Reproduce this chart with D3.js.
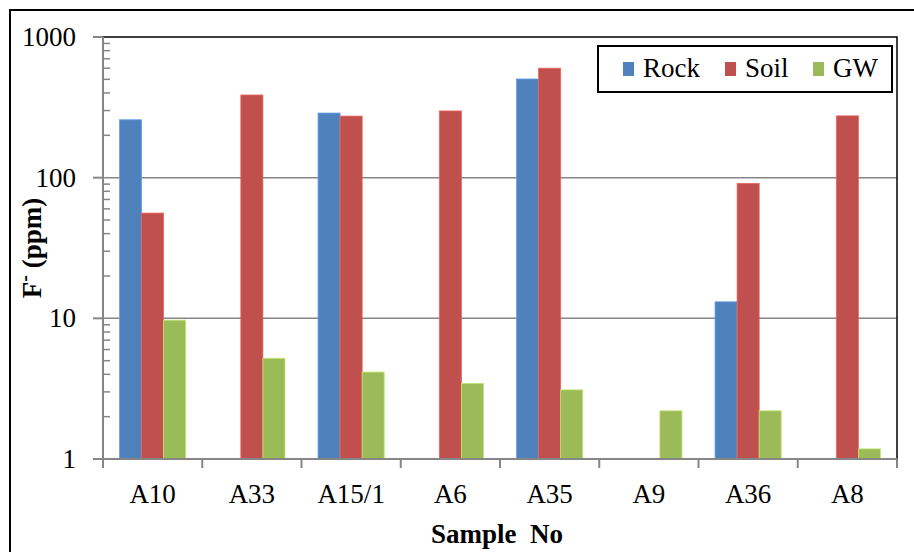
<!DOCTYPE html>
<html>
<head>
<meta charset="utf-8">
<script src="https://cdn.jsdelivr.net/npm/d3@7"></script>
<style>
  body { margin: 0; background: #fff; }
</style>
</head>
<body>
<div id="chart"></div>
<script>
// data
const samples = ["A10", "A33", "A15/1", "A6", "A35", "A9", "A36", "A8"];
const seriesNames = ["Rock", "Soil", "GW"];
const rock = [258, null, 288, null, 503, null, 13.1, null];
const soil = [56, 387, 274, 298, 600, null, 91, 275];
const gw = [9.7, 5.2, 4.15, 3.45, 3.1, 2.2, 2.2, 1.18];
const yTicks = [1, 10, 100, 1000];
const colors = ["#4f81bd", "#c0504d", "#9bbb59"];

const width = 914;
const height = 552;
const plot = { left: 103, right: 897, top: 37, bottom: 459 };
const serif = "Liberation Serif";

const svg = d3.select("#chart").append("svg")
  .attr("width", width)
  .attr("height", height);

svg.append("rect").attr("width", width).attr("height", height).attr("fill", "#fff");

// outer chart frame (runs off the right and bottom)
svg.append("rect")
  .attr("x", 10).attr("y", 10)
  .attr("width", 920).attr("height", 560)
  .attr("fill", "none").attr("stroke", "#000").attr("stroke-width", 2);

const x = d3.scaleBand().domain(samples).range([plot.left, plot.right]);
const bw = x.bandwidth() / 4.5;
const xs = d3.scaleBand().domain(seriesNames).range([0, bw * 3]);
const y = d3.scaleLog().domain([1, 1000]).range([plot.bottom, plot.top]);

// gridlines
svg.append("g").selectAll("line")
  .data(yTicks.slice(1, 3))
  .join("line")
  .attr("x1", plot.left).attr("x2", plot.right)
  .attr("y1", d => y(d)).attr("y2", d => y(d))
  .attr("stroke", "#868686").attr("stroke-width", 1.5);

// plot area border (top and right visible)
svg.append("rect")
  .attr("x", plot.left).attr("y", plot.top)
  .attr("width", plot.right - plot.left).attr("height", plot.bottom - plot.top)
  .attr("fill", "none").attr("stroke", "#000").attr("stroke-width", 1.5);

// bars
const rows = samples.map((s, i) => ({ s, vals: [rock[i], soil[i], gw[i]] }));
const groups = svg.append("g").selectAll("g")
  .data(rows)
  .join("g")
  .attr("transform", d => `translate(${x(d.s) + bw * 0.75},0)`);

groups.selectAll("rect")
  .data(d => d.vals.map((v, k) => ({ v, k })).filter(e => e.v != null))
  .join("rect")
  .attr("x", e => xs(seriesNames[e.k]))
  .attr("width", xs.bandwidth())
  .attr("y", e => y(e.v))
  .attr("height", e => plot.bottom - y(e.v))
  .attr("fill", e => colors[e.k])
  .attr("stroke", e => d3.color(colors[e.k]).brighter(0.6))
  .attr("stroke-width", 0.8);

// y axis
const yAxis = svg.append("g").attr("transform", `translate(${plot.left},0)`);
yAxis.append("line")
  .attr("y1", plot.top).attr("y2", plot.bottom + 8)
  .attr("stroke", "#868686").attr("stroke-width", 2);
yAxis.selectAll("line.major")
  .data(yTicks)
  .join("line").attr("class", "major")
  .attr("x1", -10).attr("x2", 0)
  .attr("y1", d => y(d)).attr("y2", d => y(d))
  .attr("stroke", "#868686").attr("stroke-width", 2);
const minor = [];
for (let dec = 1; dec < 1000; dec *= 10) {
  for (let m = 2; m <= 9; m++) minor.push(dec * m);
}
yAxis.selectAll("line.minor")
  .data(minor)
  .join("line").attr("class", "minor")
  .attr("x1", 0).attr("x2", 7)
  .attr("y1", d => y(d)).attr("y2", d => y(d))
  .attr("stroke", "#868686").attr("stroke-width", 1.5);
yAxis.selectAll("text")
  .data(yTicks)
  .join("text")
  .attr("x", -27)
  .attr("y", d => y(d) + 9)
  .attr("text-anchor", "end")
  .attr("font-family", serif)
  .attr("font-size", 27)
  .text(d => d);

// x axis
const xAxis = svg.append("g");
xAxis.append("line")
  .attr("x1", plot.left).attr("x2", plot.right)
  .attr("y1", plot.bottom).attr("y2", plot.bottom)
  .attr("stroke", "#868686").attr("stroke-width", 2);
const bounds = samples.map(s => x(s)).concat([plot.right]);
xAxis.selectAll("line.tick")
  .data(bounds)
  .join("line").attr("class", "tick")
  .attr("x1", d => d).attr("x2", d => d)
  .attr("y1", plot.bottom).attr("y2", plot.bottom + 9)
  .attr("stroke", "#868686").attr("stroke-width", 2);
xAxis.selectAll("text")
  .data(samples)
  .join("text")
  .attr("x", d => x(d) + x.bandwidth() / 2)
  .attr("y", 503)
  .attr("text-anchor", "middle")
  .attr("font-family", serif)
  .attr("font-size", 27)
  .text(d => d);

// axis titles
svg.append("text")
  .attr("x", 497).attr("y", 543)
  .attr("text-anchor", "middle")
  .attr("font-family", serif)
  .attr("font-size", 27).attr("font-weight", "bold")
  .attr("xml:space", "preserve")
  .text("Sample  No");

const yTitle = svg.append("text")
  .attr("transform", `translate(41,248) rotate(-90)`)
  .attr("text-anchor", "middle")
  .attr("font-family", serif)
  .attr("font-size", 27).attr("font-weight", "bold");
yTitle.append("tspan").text("F");
yTitle.append("tspan").attr("font-size", 20).attr("dy", -10).text("-");
yTitle.append("tspan").attr("dy", 10).text(" (ppm)");

// legend
const legend = svg.append("g");
legend.append("rect")
  .attr("x", 598).attr("y", 46)
  .attr("width", 294).attr("height", 46)
  .attr("fill", "#fff").attr("stroke", "#000").attr("stroke-width", 2);
const legendX = [623, 725, 813];
const items = legend.selectAll("g")
  .data(seriesNames)
  .join("g")
  .attr("transform", (d, i) => `translate(${legendX[i]},0)`);
items.append("rect")
  .attr("x", 0).attr("y", 62)
  .attr("width", 11).attr("height", 14)
  .attr("fill", (d, i) => colors[i]);
items.append("text")
  .attr("x", 20).attr("y", 77)
  .attr("font-family", serif)
  .attr("font-size", 27)
  .text(d => d);
</script>
</body>
</html>
